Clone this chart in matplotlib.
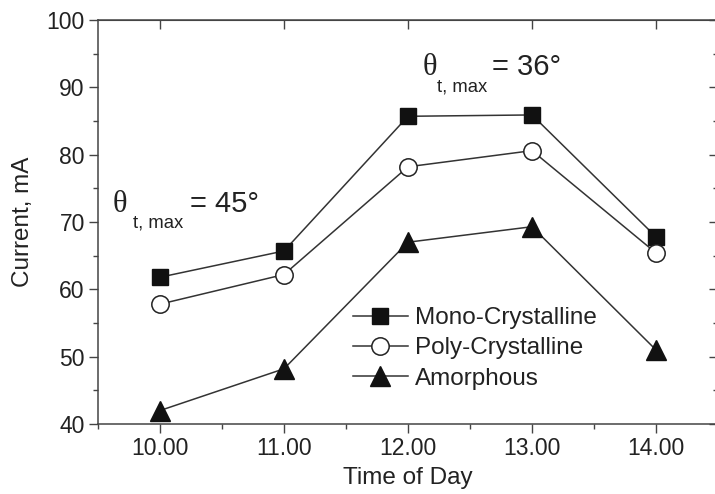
import matplotlib
matplotlib.use("Agg")
import matplotlib.pyplot as plt
from matplotlib.ticker import MultipleLocator

# ---- data ----
times = [10, 11, 12, 13, 14]
time_labels = ["10.00", "11.00", "12.00", "13.00", "14.00"]
mono = [61.8, 65.7, 85.7, 85.9, 67.8]
poly = [57.8, 62.2, 78.2, 80.6, 65.4]
amor = [42.0, 48.2, 67.0, 69.3, 51.0]
series_names = ["Mono-Crystalline", "Poly-Crystalline", "Amorphous"]
y_ticks = [40, 50, 60, 70, 80, 90, 100]

W, H = 715, 494
plt.rcParams['font.family'] = ['Liberation Sans', 'DejaVu Sans']
TXT = '#222222'
LINE = '#333333'

fig = plt.figure(figsize=(W / 100, H / 100), dpi=100)
L, R, T, B = 98, 718, 20, 424
ax = fig.add_axes([L / W, 1 - B / H, (R - L) / W, (B - T) / H])

ax.plot(times, mono, color=LINE, lw=1.1, marker='s', ms=11.5, mfc='#111111', mec='#111111', mew=1.0,
        label=series_names[0])
ax.plot(times, poly, color=LINE, lw=1.1, marker='o', ms=12.5, mfc='white', mec='#222222', mew=1.1,
        label=series_names[1])
ax.plot(times, amor, color=LINE, lw=1.1, marker='^', ms=14, mfc='#111111', mec='#111111', mew=1.0,
        label=series_names[2])

ax.set_xlim(9.5, 14.5)
ax.set_ylim(40, 100)
ax.set_xticks(times)
ax.set_xticklabels(time_labels)
ax.xaxis.set_minor_locator(MultipleLocator(0.5))
ax.set_yticks(y_ticks)
ax.yaxis.set_minor_locator(MultipleLocator(5))
ax.tick_params(axis='both', which='major', direction='out', length=6.5, width=1.0,
               colors='#444444', labelcolor=TXT, labelsize=16.5, pad=3)
ax.tick_params(axis='both', which='minor', direction='out', length=3.5, width=1.0, colors='#444444')
for s in ax.spines.values():
    s.set_color('#444444')
    s.set_linewidth(1.1)

# mirrored ticks (inward) on top and right
secx = ax.secondary_xaxis('top')
secx.set_xticks(times)
secx.tick_params(axis='x', which='major', direction='in', length=6.5, width=1.0, colors='#444444',
                 labeltop=False)
secx.spines['top'].set_color('#444444')
secy = ax.secondary_yaxis('right')
secy.set_yticks(y_ticks)
secy.yaxis.set_minor_locator(MultipleLocator(5))
secy.tick_params(axis='y', which='major', direction='in', length=6.5, width=1.0, colors='#444444',
                 labelright=False)
secy.tick_params(axis='y', which='minor', direction='in', length=3.5, width=1.0, colors='#444444')

ax.set_xlabel("Time of Day", fontsize=17.5, color=TXT, labelpad=5)
ax.set_ylabel("Current, mA", fontsize=17.5, color=TXT, labelpad=9)

leg = ax.legend(loc='upper left', bbox_to_anchor=(353 / W, 1 - 307 / H),
                bbox_transform=fig.transFigure, frameon=False, fontsize=17.5,
                handlelength=2.25, handletextpad=0.3, labelspacing=0.34, borderpad=0,
                borderaxespad=0)
for t in leg.get_texts():
    t.set_color(TXT)


def px(x, y):
    return x / W, 1 - y / H


def theta_label(x0, base, sub_x, sub_base, eq_x, text):
    fig.text(*px(x0, base), "\u03b8", family=['Liberation Serif'], fontsize=22, color=TXT,
             va='baseline', ha='left')
    fig.text(*px(sub_x, sub_base), "t, max", fontsize=13.3, color=TXT, va='baseline', ha='left')
    fig.text(*px(eq_x, base), text, fontsize=21, color=TXT, va='baseline', ha='left')


theta_label(113, 212, 133, 227, 190, "= 45\u00b0")
theta_label(423, 75, 437, 92, 492, "= 36\u00b0")

fig.savefig("out.png", dpi=100)
